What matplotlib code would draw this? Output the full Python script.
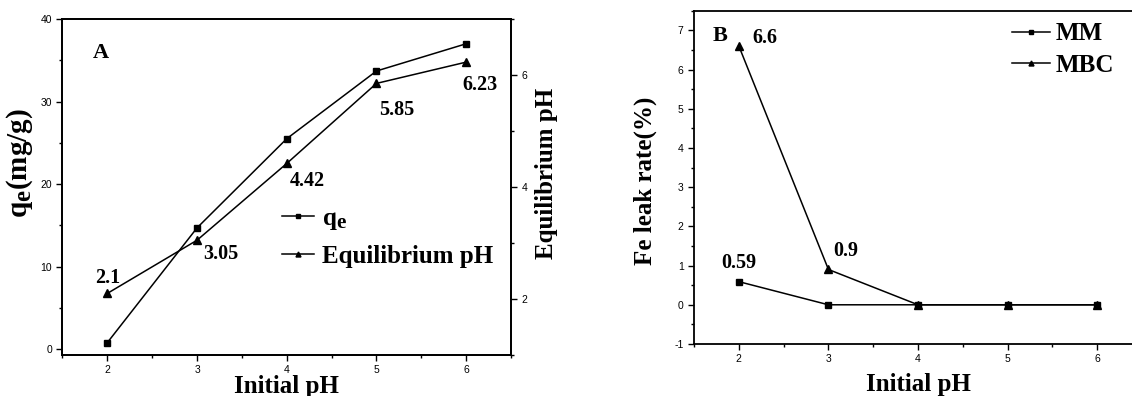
import numpy as np
import matplotlib
import matplotlib.pyplot as plt

# larger subscripts, the "e" in q_e is nearly full size in the figure
matplotlib._mathtext.SHRINK_FACTOR = 0.85

# data
ph_initial = [2, 3, 4, 5, 6]
qe = [0.8, 14.7, 25.5, 33.7, 37.0]
ph_equil = [2.1, 3.05, 4.42, 5.85, 6.23]
leak_mm = [0.59, 0, 0, 0, 0]
leak_mbc = [6.6, 0.9, 0, 0, 0]

# text offsets of the value labels (pixels)
equil_offsets = [(0, 15), (24, -14), (21, -18), (20, -27), (14, -23)]
mm_labels = {0: (0, 19)}
mbc_labels = {0: (26, 8), 1: (17, 18)}

plt.rcParams['font.family'] = 'Liberation Sans'
plt.rcParams['axes.unicode_minus'] = False
plt.rcParams['mathtext.fontset'] = 'custom'
plt.rcParams['mathtext.rm'] = 'Liberation Serif:bold'
plt.rcParams['mathtext.it'] = 'Liberation Serif:bold'
plt.rcParams['mathtext.bf'] = 'Liberation Serif:bold'

serif = dict(family='Liberation Serif', weight='bold')
lab_size = 18
ann_size = 14.5
tick_size = 7.5
lw = 1.1
spine_w = 1.3


def style_axis(ax):
    for s in ax.spines.values():
        s.set_linewidth(spine_w)
    ax.tick_params(which='major', direction='out', length=4.5, width=1.0,
                   labelsize=tick_size, pad=3)
    ax.tick_params(which='minor', direction='out', length=2.5, width=1.0)


fig = plt.figure(figsize=(11.32, 3.96), dpi=100)

# ---------------- panel A ----------------
axA = fig.add_axes([0.0552, 0.1035, 0.3962, 0.8485])
axA2 = axA.twinx()
l1, = axA.plot(ph_initial, qe, '-s', color='k', lw=lw, ms=5, label=r'$\mathrm{q_e}$')
l2, = axA2.plot(ph_initial, ph_equil, '-^', color='k', lw=lw, ms=6, label='Equilibrium pH')

axA.set_xlim(1.5, 6.5)
axA.set_ylim(-0.7, 40)
axA2.set_ylim(1, 7)
axA.set_xticks(ph_initial)
axA.set_xticks(np.arange(1.5, 6.51, 0.5), minor=True)
axA.set_yticks([0, 10, 20, 30, 40])
axA.set_yticks([5, 15, 25, 35], minor=True)
axA2.set_yticks([2, 4, 6])
axA2.set_yticks([1, 3, 5, 7], minor=True)
style_axis(axA)
style_axis(axA2)

axA.set_xlabel('Initial pH', fontsize=lab_size, **serif)
axA.xaxis.set_label_coords(0.5, -0.06)
axA.set_ylabel(r'$\mathrm{q_e}$(mg/g)', fontsize=21, **serif)
axA.yaxis.set_label_coords(-0.062, 0.57)
axA2.set_ylabel('Equilibrium pH', fontsize=lab_size, **serif)
axA2.yaxis.set_label_coords(1.054, 0.54)

axA.text(0.085, 0.9, 'A', transform=axA.transAxes, fontsize=16,
         ha='center', va='center', **serif)

for x, y, off in zip(ph_initial, ph_equil, equil_offsets):
    axA2.annotate(f'{y:g}', (x, y), xytext=off, textcoords='offset pixels',
                  ha='center', va='center', fontsize=ann_size, **serif)

axA.legend(handles=[l1, l2], loc='upper left', bbox_to_anchor=(0.489, 0.44),
           frameon=False, prop=dict(size=lab_size, **serif), handlelength=1.3,
           handletextpad=0.3, labelspacing=0.5, markerscale=0.6,
           borderaxespad=0, borderpad=0)

# ---------------- panel B ----------------
axB = fig.add_axes([0.6131, 0.1313, 0.3958, 0.8417])
m1, = axB.plot(ph_initial, leak_mm, '-s', color='k', lw=lw, ms=5, label='MM')
m2, = axB.plot(ph_initial, leak_mbc, '-^', color='k', lw=lw, ms=6, label='MBC')
axB.set_xlim(1.5, 6.5)
axB.set_ylim(-1, 7.5)
axB.set_xticks(ph_initial)
axB.set_xticks(np.arange(1.5, 6.51, 0.5), minor=True)
axB.set_yticks(range(-1, 8))
axB.set_yticks(np.arange(-0.5, 7.51, 1), minor=True)
style_axis(axB)
axB.tick_params(which='both', right=False)

axB.set_xlabel('Initial pH', fontsize=lab_size, **serif)
axB.xaxis.set_label_coords(0.5, -0.088)
axB.set_ylabel('Fe leak rate(%)', fontsize=lab_size, **serif)
axB.yaxis.set_label_coords(-0.083, 0.49)

axB.text(0.058, 0.924, 'B', transform=axB.transAxes, fontsize=16,
         ha='center', va='center', **serif)

for i, off in mm_labels.items():
    axB.annotate(f'{leak_mm[i]:g}', (ph_initial[i], leak_mm[i]), xytext=off,
                 textcoords='offset pixels', ha='center', va='center',
                 fontsize=ann_size, **serif)
for i, off in mbc_labels.items():
    axB.annotate(f'{leak_mbc[i]:g}', (ph_initial[i], leak_mbc[i]), xytext=off,
                 textcoords='offset pixels', ha='center', va='center',
                 fontsize=ann_size, **serif)

axB.legend(handles=[m1, m2], loc='upper left', bbox_to_anchor=(0.71, 0.965),
           frameon=False, prop=dict(size=lab_size, **serif), handlelength=1.5,
           handletextpad=0.25, labelspacing=0.35, markerscale=0.6,
           borderaxespad=0, borderpad=0)

fig.savefig('out.png', dpi=100)
